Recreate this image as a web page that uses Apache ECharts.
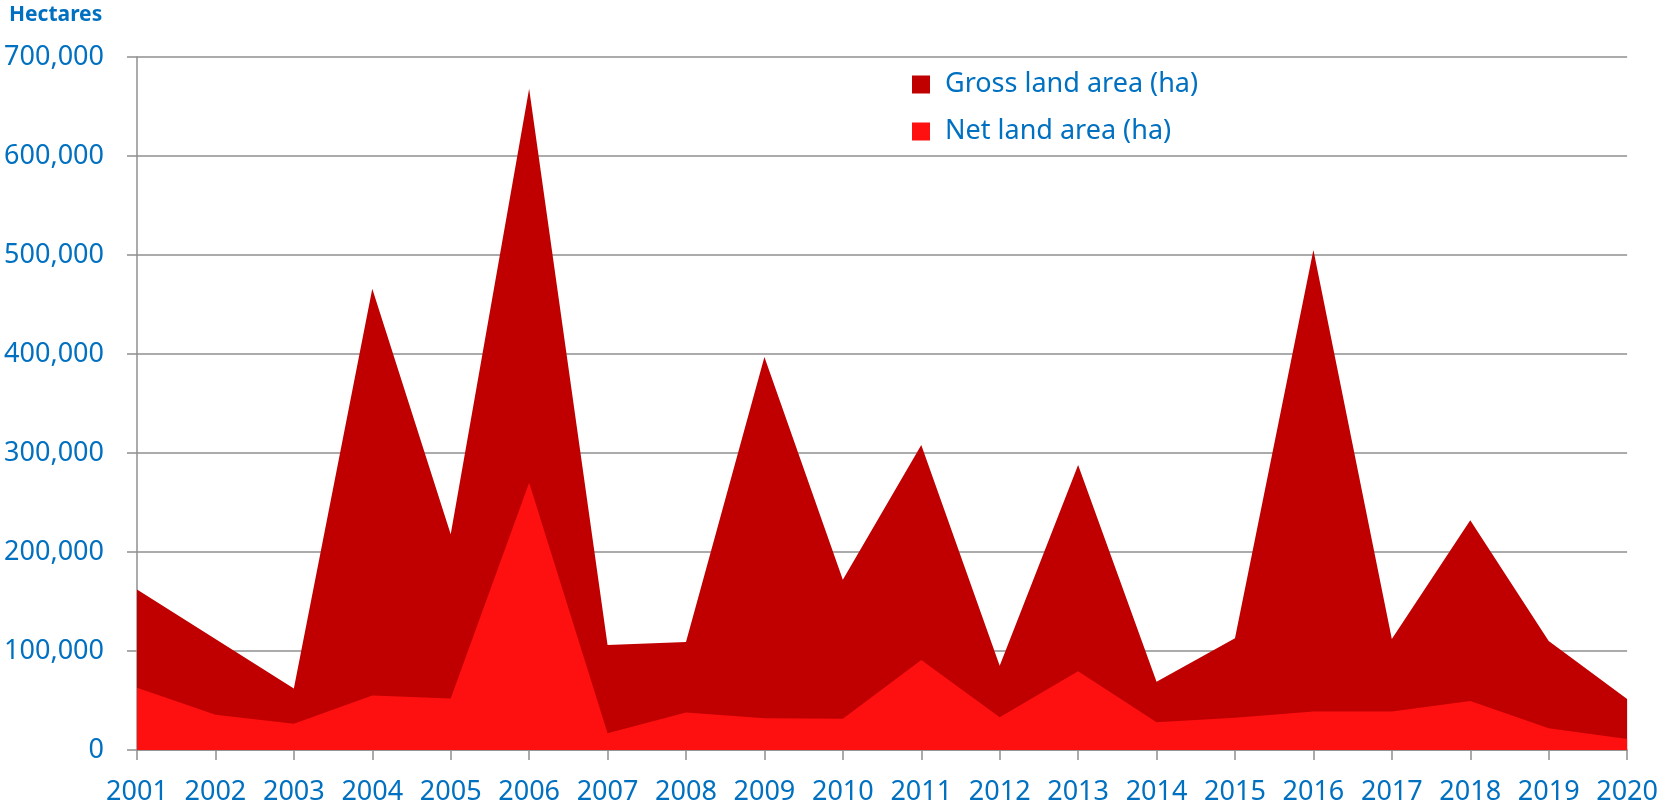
<!DOCTYPE html>
<html>
<head>
<meta charset="utf-8">
<title>Gross and net land area</title>
<script src="https://cdn.jsdelivr.net/npm/echarts@6/dist/echarts.min.js"></script>
<style>
  html, body { margin: 0; padding: 0; background: #fff; }
  #chart { width: 1661px; height: 806px; }
</style>
</head>
<body>
<div id="chart"></div>
<script>
// categories (years)
var years = ['2001', '2002', '2003', '2004', '2005', '2006', '2007', '2008', '2009', '2010',
  '2011', '2012', '2013', '2014', '2015', '2016', '2017', '2018', '2019', '2020'];

// gross land area (ha)
var grossArea = [162000, 112000, 62000, 466000, 218000, 668000, 106000, 109000, 397000, 172000,
  308000, 85000, 288000, 69000, 113000, 505000, 112000, 232000, 110000, 51500];

// net land area (ha)
var netArea = [63000, 35500, 26500, 55000, 52000, 270000, 17000, 38000, 32000, 31500,
  91000, 33000, 79500, 28000, 32500, 39000, 39000, 49500, 22000, 11000];

var yTicks = { min: 0, max: 700000, step: 100000 };

var blue = '#0070C0';
var grey = '#8f8f8f';
var font = '"Noto Sans", "Open Sans", sans-serif';

var myChart = echarts.init(document.getElementById('chart'));

option = {
  animation: false,
  title: {
    text: 'Hectares',
    left: 4,
    top: 0,
    textStyle: { color: blue, fontFamily: font, fontWeight: 'bold', fontSize: 21 }
  },
  legend: {
    orient: 'vertical',
    left: 907,
    top: 66,
    itemWidth: 18,
    itemHeight: 18,
    itemGap: 20,
    icon: 'rect',
    selectedMode: false,
    data: ['Gross land area (ha)', 'Net land area (ha)'],
    textStyle: { color: blue, fontFamily: font, fontSize: 27, padding: [0, 0, 0, 10] }
  },
  grid: {
    left: 137,
    right: 31,
    top: 57,
    bottom: 55,
    containLabel: false
  },
  xAxis: {
    type: 'category',
    boundaryGap: false,
    data: years,
    axisLine: { lineStyle: { color: grey, width: 1.5 } },
    axisTick: { show: true, length: 10, alignWithLabel: true, lineStyle: { color: grey, width: 1.5 } },
    axisLabel: { color: blue, fontFamily: font, fontSize: 27, margin: 29, interval: 0, showMaxLabel: true, showMinLabel: true }
  },
  yAxis: {
    type: 'value',
    min: yTicks.min,
    max: yTicks.max,
    interval: yTicks.step,
    axisLine: { show: true, lineStyle: { color: grey, width: 1.5 } },
    axisTick: { show: true, length: 10, lineStyle: { color: grey, width: 1.5 } },
    splitLine: { show: true, lineStyle: { color: grey, width: 1.5 } },
    axisLabel: {
      color: blue, fontFamily: font, fontSize: 27, margin: 33,
      formatter: function (v) { return v.toLocaleString('en-US'); }
    }
  },
  series: [{
      name: 'Gross land area (ha)',
      type: 'line',
      data: grossArea,
      symbol: 'none',
      itemStyle: { color: '#C00000' },
      lineStyle: { width: 0, color: '#C00000' },
      areaStyle: { color: '#C00000', opacity: 1 }
    },
    {
      name: 'Net land area (ha)',
      type: 'line',
      data: netArea,
      symbol: 'none',
      itemStyle: { color: '#FF1010' },
      lineStyle: { width: 0, color: '#FF1010' },
      areaStyle: { color: '#FF1010', opacity: 1 }
    }
  ]
};

myChart.setOption(option);
</script>
</body>
</html>
